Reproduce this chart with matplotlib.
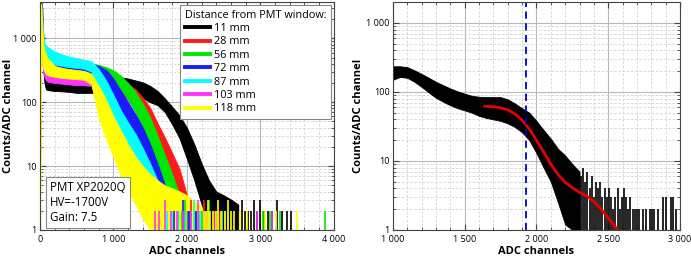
import matplotlib.pyplot as plt
import matplotlib.ticker as ticker
from matplotlib.lines import Line2D

# channel grid used by the left-panel bands (one entry per band point)
CH = [3, 15, 30, 45, 60, 80, 100, 200, 300, 400, 500, 600, 700, 800, 900,
      1000, 1100, 1200, 1300, 1400, 1500, 1600, 1700, 1800, 1900, 2000,
      2100, 2200, 2300, 2400, 2500, 2600, 2700]

labels = ["11 mm", "28 mm", "56 mm", "72 mm", "87 mm", "103 mm", "118 mm"]
colors = ["#000000", "#ff1a1a", "#00e600", "#1a1aff", "#00ffff", "#ff33ff", "#ffff00"]

# upper / lower edge of each noisy spectrum band (counts per channel)
hi_11 = [4000, 4000, 3000, 1000, 450, 300, 260, 210, 200, 195, 190, 195, 205, 220, 230,
         240, 245, 235, 220, 205, 180, 150, 115, 85, 62, 40, 22, 11, 6, 4, 3.5, 3, 2.5]
lo_11 = [200, 1500, 800, 300, 200, 160, 155, 150, 148, 145, 140, 140, 140, 140, 140,
         145, 145, 140, 130, 115, 100, 90, 70, 45, 27, 13, 6, 2.5, 1, 1, 1, 1, 1]
hi_28 = [3000, 3500, 2000, 900, 600, 480, 430, 390, 370, 355, 345, 335, 325, 300, 280,
         245, 215, 190, 160, 118, 82, 47, 28, 16, 9, 3.5]
lo_28 = [100, 1000, 600, 350, 300, 280, 270, 255, 245, 240, 235, 230, 225, 215, 200,
         170, 140, 110, 75, 48, 30, 15, 8, 4, 2, 1]
hi_56 = [3000, 3500, 2000, 950, 650, 520, 460, 400, 380, 370, 370, 385, 400, 385, 355,
         315, 260, 200, 145, 95, 58, 30, 15, 7.5, 3.5]
lo_56 = [100, 1000, 600, 380, 320, 300, 290, 280, 275, 270, 270, 280, 300, 285, 255,
         210, 160, 110, 70, 40, 20, 10, 4.5, 2, 1]
hi_72 = [3000, 3500, 2200, 1000, 800, 720, 680, 560, 500, 460, 440, 420, 400, 370, 320,
         235, 150, 100, 65, 40, 22, 11, 5, 2.5]
lo_72 = [100, 1000, 600, 500, 450, 420, 400, 350, 320, 300, 290, 280, 270, 250, 190,
         100, 55, 35, 22, 12, 6, 2.5, 1, 1]
hi_87 = [3000, 3500, 2300, 1100, 850, 780, 740, 620, 560, 520, 490, 465, 440, 330, 220,
         130, 75, 48, 32, 19, 11, 6, 3, 2]
lo_87 = [100, 1000, 650, 550, 500, 470, 450, 390, 370, 355, 345, 335, 300, 110, 65,
         42, 28, 18, 11, 6, 3, 1.5, 1, 1]
hi_103 = [2000, 3000, 1800, 700, 480, 420, 380, 290, 270, 255, 245, 240, 235, 170, 95,
          55, 32, 20, 13, 8, 4]
lo_103 = [15, 800, 400, 300, 250, 220, 210, 200, 195, 190, 185, 185, 180, 75, 36,
          21, 12, 7, 4, 2, 1]
hi_118 = [3000, 3500, 1500, 800, 650, 560, 500, 370, 345, 330, 320, 310, 280, 180, 110,
          60, 36, 22, 14, 10, 7.5, 6, 5, 4.5, 4, 3.5, 2.8, 2.3]
lo_118 = [1, 600, 400, 330, 300, 280, 265, 250, 240, 235, 230, 225, 190, 55, 27,
          14, 7, 4, 2.5, 1.5, 1, 1, 1, 1, 1, 1, 1, 1]

# sparse single-channel hits in the tails (channel, counts)
tail_ch_11 = [2750, 2790, 2830, 2870, 2920, 2960, 2990, 3050, 3100, 3160, 3230, 3290, 3360, 3420]
tail_h_11 = [3, 2, 2, 2, 3, 2, 3, 2, 2, 2, 3, 2, 2, 2]
tail_ch_28 = [2020, 2060, 2110, 2170, 2230, 2290, 2360, 2440]
tail_h_28 = [2, 3, 2, 2, 3, 2, 2, 2]
tail_ch_56 = [1930, 1980, 2040, 2120, 2200, 2300, 2420, 2560, 3040, 3130, 3270, 3880]
tail_h_56 = [2, 3, 2, 2, 2, 3, 2, 2, 2, 2, 2, 2]
tail_ch_72 = [1830, 1880, 1950, 2030, 2120, 2260]
tail_h_72 = [2, 2, 3, 2, 2, 2]
tail_ch_87 = [1730, 1800, 1880, 1990, 2090, 2180, 2300, 2480]
tail_h_87 = [2, 2, 2, 2, 3, 2, 2, 2]
tail_ch_103 = [1560, 1620, 1700, 1780, 1860, 1950, 2050, 2150, 2260, 2380, 2520, 2960, 3160]
tail_h_103 = [2, 2, 3, 2, 2, 2, 2, 3, 2, 2, 2, 2, 2]
tail_ch_118 = [2230, 2260, 2290, 2320, 2350, 2390, 2430, 2470, 2520, 2560, 2600, 2640,
               2720, 2820, 3060, 3220, 3500]
tail_h_118 = [2, 2, 3, 2, 2, 2, 3, 2, 2, 3, 2, 2, 2, 2, 2, 2, 2]

bands_hi = [hi_11, hi_28, hi_56, hi_72, hi_87, hi_103, hi_118]
bands_lo = [lo_11, lo_28, lo_56, lo_72, lo_87, lo_103, lo_118]
tails_ch = [tail_ch_11, tail_ch_28, tail_ch_56, tail_ch_72, tail_ch_87, tail_ch_103, tail_ch_118]
tails_h = [tail_h_11, tail_h_28, tail_h_56, tail_h_72, tail_h_87, tail_h_103, tail_h_118]

# right panel: one spectrum with its fit
r_ch = [1000, 1050, 1100, 1150, 1200, 1250, 1300, 1350, 1400, 1450, 1500, 1550, 1600,
        1650, 1700, 1750, 1800, 1850, 1900, 1950, 2000, 2050, 2100, 2150, 2200, 2250, 2300]
r_hi = [235, 235, 228, 205, 182, 160, 140, 125, 112, 102, 94, 88, 85,
        84, 84, 84, 78, 68, 58, 50, 38, 28, 21, 15, 12, 9, 7]
r_lo = [150, 165, 160, 140, 118, 98, 82, 72, 64, 58, 54, 50, 45,
        42, 40, 38, 35, 31, 26, 20, 13, 8, 5, 2.5, 1.2, 1, 1]
r_tail_ch = [2310, 2325, 2340, 2355, 2370, 2385, 2400, 2415,
             2430, 2445, 2460, 2475, 2490, 2505, 2520, 2535, 2550, 2565, 2580, 2595, 2610,
             2625, 2640, 2655, 2670, 2685, 2700, 2715, 2745, 2760, 2790, 2805, 2820, 2850,
             2880, 2900, 2935, 2955, 2970]
r_tail_h = [6, 8, 5, 7, 4, 6, 3, 5,
            4, 5, 3, 4, 3, 4, 3, 2, 3, 4, 2, 3, 4,
            3, 2, 3, 2, 2, 2, 2, 2, 2, 2, 2, 2, 2,
            3, 3, 3, 3, 2]
fit_ch = [1640, 1700, 1750, 1800, 1850, 1900, 1950, 2000, 2050, 2100, 2150, 2200, 2250,
          2300, 2350, 2400, 2450, 2500, 2550, 2575]
fit_val = [62, 61, 59, 55, 48, 39, 29, 20, 13.5, 9, 6.4, 4.9, 4.1,
           3.5, 3.1, 2.6, 2.0, 1.5, 1.1, 0.95]
edge_ch = 1925


def spaced(v, pos):
    return f"{v:,.0f}".replace(",", " ")


def style_axes(ax, xlim, ylim, xmajor, xminor, ylabel_x):
    ax.set_xlim(*xlim)
    ax.set_yscale("log")
    ax.set_ylim(*ylim)
    ax.xaxis.set_major_locator(ticker.MultipleLocator(xmajor))
    ax.xaxis.set_minor_locator(ticker.MultipleLocator(xminor))
    ax.xaxis.set_major_formatter(ticker.FuncFormatter(spaced))
    ax.yaxis.set_major_locator(ticker.LogLocator(base=10))
    ax.yaxis.set_minor_locator(ticker.LogLocator(base=10, subs=range(2, 10)))
    ax.yaxis.set_major_formatter(ticker.FuncFormatter(spaced))
    ax.yaxis.set_minor_formatter(ticker.NullFormatter())
    ax.set_axisbelow(True)
    ax.grid(which="major", color="#b8b8b8", lw=0.8)
    ax.grid(which="minor", color="#d2d2d2", lw=0.6, ls=(0, (3, 2)))
    ax.tick_params(which="both", direction="in", top=True, right=True,
                   labelsize=6.5, color="#444444", pad=2.5)
    ax.tick_params(axis="x", which="major", pad=3.5)
    ax.tick_params(which="major", length=4)
    ax.tick_params(which="minor", length=2)
    for s in ax.spines.values():
        s.set_color("#444444")
        s.set_linewidth(0.8)
    ax.set_xlabel("ADC channels", fontsize=8, fontweight="bold")
    ax.set_ylabel("Counts/ADC channel", fontsize=8, fontweight="bold")
    ax.xaxis.set_label_coords(0.5, -0.072)
    ax.yaxis.set_label_coords(ylabel_x, 0.5)


plt.rcParams["font.family"] = ["Open Sans", "DejaVu Sans"]
fig = plt.figure(figsize=(6.91, 2.59), dpi=100)
ax1 = fig.add_axes([0.058, 0.112, 0.425, 0.880])
ax2 = fig.add_axes([0.5687, 0.112, 0.4153, 0.880])

for hi, lo, tch, th, c in zip(bands_hi, bands_lo, tails_ch, tails_h, colors):
    ch = CH[:len(hi)]
    ax1.fill_between(ch, lo, hi, color=c, lw=0.6, edgecolor=c)
    ax1.vlines(tch, 1, th, color=c, lw=1.2)

style_axes(ax1, (0, 4000), (1, 3700), 1000, 200, -0.088)

handles = [Line2D([], [], color=c, lw=2.8) for c in colors]
leg = ax1.legend(handles, labels, title="Distance from PMT window:", loc="upper right",
                 fontsize=7.8, title_fontsize=7.8, alignment="left", fancybox=False,
                 edgecolor="#888888", framealpha=1, borderaxespad=0.28,
                 handlelength=2.3, handletextpad=0.4, labelspacing=0.22, borderpad=0.42)
leg.get_frame().set_linewidth(0.8)

ax1.text(0.035, 0.028, "PMT XP2020Q\nHV=-1700V\nGain: 7.5", transform=ax1.transAxes,
         fontsize=8.3, va="bottom", ha="left", linespacing=1.2,
         bbox=dict(boxstyle="square,pad=0.35", fc="white", ec="#888888", lw=0.8))

ax2.fill_between(r_ch, r_lo, r_hi, color="black", lw=0.6, edgecolor="black")
ax2.vlines(r_tail_ch, 1, r_tail_h, color="black", lw=1.2)
ax2.plot(fit_ch, fit_val, color="#e60000", lw=2)
ax2.axvline(edge_ch, color="#0000cc", lw=1.3, ls=(0, (4, 2.5)))
style_axes(ax2, (1000, 3000), (1, 2000), 500, 100, -0.100)

fig.savefig("out.png", dpi=100)
